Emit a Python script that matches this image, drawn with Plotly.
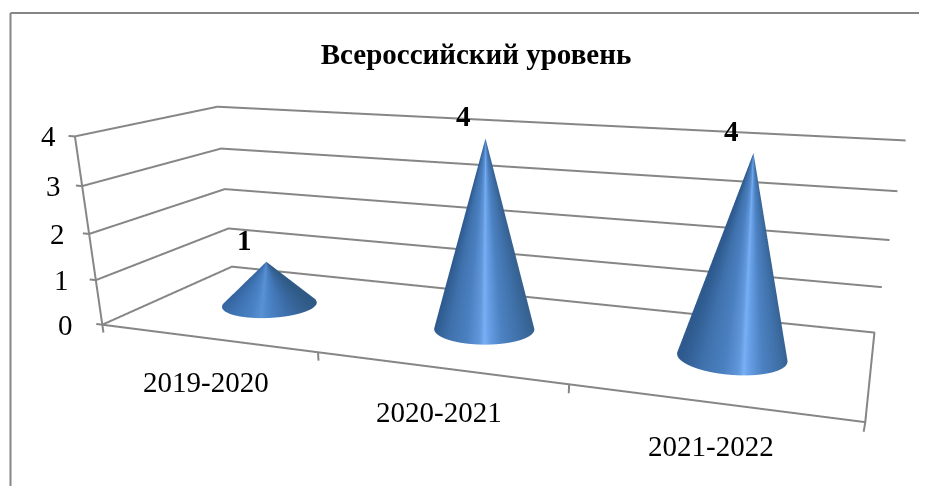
import numpy as np
import plotly.graph_objects as go

categories = ["2019-2020", "2020-2021", "2021-2022"]
values = [1, 4, 4]
z_ticks = [0, 1, 2, 3, 4]
title_text = "Всероссийский уровень"

# The page body has an 8 px margin; the tall figure gives the long lens the 3D view needs.
W, H = 919, 900
ay, az = 0.3353, 0.2518
eye = dict(x=0.4755, y=-1.3418, z=0.3296)
center = dict(x=0.0205, y=-0.1205, z=-0.2654)

fig = go.Figure()
th = np.linspace(0, 2*np.pi, 145)
t = np.linspace(0, 1, 2)
TH, T = np.meshgrid(th, t)
radius_x = 0.205
radius_y = radius_x/3/ay
view_ang = np.arctan2(eye["y"], eye["x"])
cs_tall = [[0,"#2e5a8e"],[.15,"#3f71ac"],[.32,"#4a80c0"],[.46,"#6298dc"],[.5,"#78b0f5"],[.55,"#689fe6"],[.68,"#4c82c2"],[.85,"#3f70a8"],[1,"#35608f"]]
cs_low = [[0,"#3565a0"],[.2,"#3f74b4"],[.4,"#4a83c6"],[.5,"#5a92d4"],[.6,"#4a83c6"],[.8,"#3c6ca6"],[1,"#2f5a85"]]
for i, v in enumerate(values):
    fig.add_trace(go.Surface(
        x=i+radius_x*(1-T)*np.cos(TH), y=radius_y*(1-T)*np.sin(TH), z=v*T,
        surfacecolor=np.sin(TH-view_ang), cmin=-1, cmax=1, colorscale=cs_low if v < 2 else cs_tall, showscale=False,
        lighting=dict(ambient=1, diffuse=0, specular=0, roughness=1, fresnel=0), hoverinfo="skip"))
edge = "#868686"
x0, x1 = -.5, 2.5
y0, y1 = -.5, .5
def line(xs, ys, zs):
    fig.add_trace(go.Scatter3d(x=xs, y=ys, z=zs, mode="lines", line=dict(color=edge,width=4), hoverinfo="skip", showlegend=False))
line([x0,x1,x1,x0,x0,x0], [y0,y0,y1,y1,y0,y0], [0,0,0,0,0,4])
for k in z_ticks:
    line([x0-.03,x0,x0,x1], [y0,y0,y1,y1], [k,k,k,k])
for k in range(len(categories)+1):
    line([x0+k,x0+k], [y0,y0], [0,-.18])
xr = [-.6,2.6]; zr = [-.2,4.2]
hidden = dict(visible=False, showspikes=False, showgrid=False, showbackground=False, zeroline=False, title="")
ann = [dict(x=i,y=0,z=v,text="<b>%d</b>"%v,showarrow=False,xshift=-22,yshift=22,font=dict(size=29)) for i,v in enumerate(values)]
ann += [dict(x=i,y=y0,z=0,text=c,showarrow=False,yshift=-44,font=dict(size=29)) for i,c in enumerate(categories)]
ann += [dict(x=x0,y=y0,z=k,text=str(k),showarrow=False,xshift=-37+2.75*k,font=dict(size=29)) for k in z_ticks]
fig.update_layout(
    width=W, height=H, margin=dict(l=0,r=0,t=0,b=0), paper_bgcolor="white", showlegend=False,
    font=dict(family="Liberation Serif", color="black"),
    title=dict(text="<b>%s</b>"%title_text, font=dict(size=29), x=468/W, xanchor="center", y=1-46/H, yanchor="middle"),
    scene=dict(
        domain=dict(x=[0,1],y=[0,1]),
        aspectmode="manual", aspectratio=dict(x=3.2/3,y=ay,z=az*4.4/4),
        camera=dict(eye=eye, center=center, up=dict(x=0,y=0,z=1), projection=dict(type="perspective")),
        xaxis=dict(range=xr, **hidden), yaxis=dict(range=[y0,y1], **hidden), zaxis=dict(range=zr, **hidden),
        annotations=ann,
    ),
    shapes=[dict(type="line",xref="paper",yref="paper",x0=2.5/W,x1=1,y0=1-5/H,y1=1-5/H,line=dict(color=edge,width=2)),
            dict(type="line",xref="paper",yref="paper",x0=2.5/W,x1=2.5/W,y0=1-5/H,y1=0,line=dict(color=edge,width=2))],
)
fig.write_html("out.html")
